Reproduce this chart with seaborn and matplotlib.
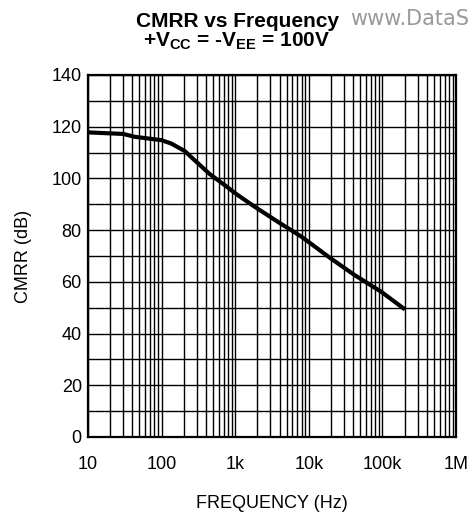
import matplotlib
matplotlib.use("Agg")
import matplotlib.pyplot as plt
import seaborn as sns
import numpy as np
import pandas as pd
from matplotlib.ticker import FixedLocator, LogLocator, NullFormatter

# CMRR curve (frequency in Hz, CMRR in dB)
freq_hz = [10, 30, 43, 99, 135, 206, 313, 450, 720, 1040, 1850, 3800,
           8000, 20000, 42000, 97000, 203000]
cmrr_db = [117.8, 117.2, 116.1, 114.8, 113.5, 110.6, 105.8, 101.7, 97.4,
           93.9, 89.0, 83.2, 77.4, 69.0, 62.6, 56.1, 49.3]

x_ticks = [10, 100, 1e3, 1e4, 1e5, 1e6]
x_tick_labels = ["10", "100", "1k", "10k", "100k", "1M"]
y_ticks = [0, 20, 40, 60, 80, 100, 120, 140]

sns.set_style("white")
plt.rcParams["font.family"] = ["Liberation Sans", "DejaVu Sans"]
plt.rcParams["text.color"] = "black"
plt.rcParams["axes.labelcolor"] = "black"
plt.rcParams["xtick.color"] = "black"
plt.rcParams["ytick.color"] = "black"
plt.rcParams["mathtext.fontset"] = "custom"
plt.rcParams["mathtext.rm"] = "Liberation Sans:bold"
plt.rcParams["mathtext.bf"] = "Liberation Sans:bold"
plt.rcParams["mathtext.it"] = "Liberation Sans:bold"

df = pd.DataFrame({"freq": freq_hz, "cmrr": cmrr_db})

fig = plt.figure(figsize=(4.75, 5.15), dpi=100)
ax = fig.add_axes([0.1853, 0.1515, 0.7747, 0.7029])

sns.lineplot(data=df, x="freq", y="cmrr", ax=ax, color="black",
             linewidth=3.0, solid_capstyle="butt", zorder=5)

ax.set_xscale("log")
ax.set_xlim(10, 1e6)
ax.set_ylim(0, 140)

ax.xaxis.set_major_locator(FixedLocator(x_ticks))
ax.set_xticklabels(x_tick_labels)
ax.xaxis.set_minor_locator(LogLocator(base=10, subs=np.arange(2, 10)))
ax.xaxis.set_minor_formatter(NullFormatter())
ax.set_yticks(y_ticks)
ax.yaxis.set_minor_locator(FixedLocator(np.arange(10, 140, 20)))

ax.grid(True, which="both", color="black", linewidth=1.0)
ax.tick_params(which="both", length=0, labelsize=13, colors="black",
               labelcolor="black")
ax.tick_params(axis="x", pad=14)
ax.tick_params(axis="y", pad=4.5)

for s in ax.spines.values():
    s.set_color("black")
    s.set_linewidth(1.6)

ax.set_xlabel("FREQUENCY (Hz)", fontsize=13, labelpad=15.5, color="black")
ax.set_ylabel("CMRR (dB)", fontsize=13, labelpad=14, color="black")

fig.text(0.499, 0.9476, "CMRR vs Frequency", ha="center", va="baseline",
         fontsize=15, fontweight="bold", color="black")
fig.text(0.499, 0.9087, r"+V$_\mathbf{CC}$ = -V$_\mathbf{EE}$ = 100V",
         ha="center", va="baseline", fontsize=15, fontweight="bold",
         color="black")
fig.text(0.737, 0.951, "www.DataS", ha="left", va="baseline",
         fontsize=15, color="#999999", family="DejaVu Sans")

fig.savefig("out.png", dpi=100)
